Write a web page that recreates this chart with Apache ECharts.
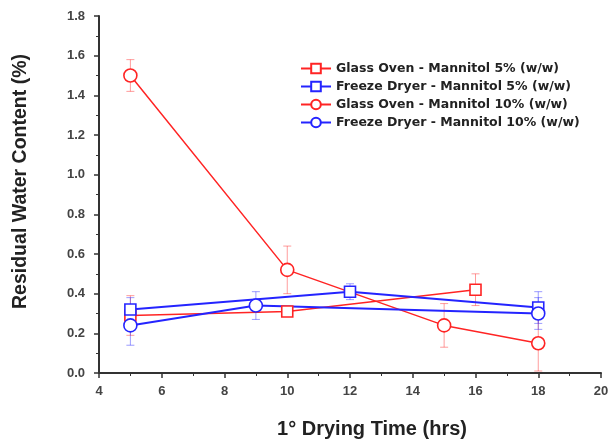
<!DOCTYPE html>
<html>
<head>
<meta charset="utf-8">
<script src="https://cdn.jsdelivr.net/npm/echarts@6/dist/echarts.min.js"></script>
<style>
html,body{margin:0;padding:0;background:#fff;}
#chart{width:613px;height:444px;}
</style>
</head>
<body>
<div id="chart"></div>
<script>
var names = ['Glass Oven - Mannitol 5% (w/w)', 'Freeze Dryer - Mannitol 5% (w/w)',
             'Glass Oven - Mannitol 10% (w/w)', 'Freeze Dryer - Mannitol 10% (w/w)'];

var goX5 = [5, 10, 16];
var goY5 = [0.29, 0.31, 0.42];
var goE5 = [0.10, 0.02, 0.08];

var fdX5 = [5, 12, 18];
var fdY5 = [0.32, 0.41, 0.33];
var fdE5 = [0.06, 0.04, 0.08];

var goX10 = [5, 10, 15, 18];
var goY10 = [1.50, 0.52, 0.24, 0.15];
var goE10 = [0.08, 0.12, 0.11, 0.14];

var fdX10 = [5, 9, 18];
var fdY10 = [0.24, 0.34, 0.30];
var fdE10 = [0.10, 0.07, 0.08];

var red = '#ff2424', blue = '#2424ff';

function pts(xs, ys) {
  return xs.map(function (x, i) { return [x, ys[i]]; });
}
function errPts(xs, ys, es) {
  return xs.map(function (x, i) { return [x, ys[i] - es[i], ys[i] + es[i]]; });
}

function lineSeries(name, xs, ys, color, symbol, width) {
  return {
    name: name, type: 'line', data: pts(xs, ys),
    symbol: symbol, symbolSize: symbol == 'rect' ? 11 : 13,
    lineStyle: {color: color, width: width},
    itemStyle: {color: '#fff', borderColor: color, borderWidth: 1.6},
    z: 3
  };
}

function errSeries(xs, ys, es, color) {
  return {
    type: 'custom', silent: true, z: 2,
    data: errPts(xs, ys, es),
    renderItem: function (params, api) {
      var lo = api.coord([api.value(0), api.value(1)]);
      var hi = api.coord([api.value(0), api.value(2)]);
      var w = 4;
      var st = {stroke: color, lineWidth: 1, opacity: 0.45};
      return {type: 'group', children: [
        {type: 'line', shape: {x1: lo[0], y1: lo[1], x2: hi[0], y2: hi[1]}, style: st},
        {type: 'line', shape: {x1: lo[0] - w, y1: lo[1], x2: lo[0] + w, y2: lo[1]}, style: st},
        {type: 'line', shape: {x1: hi[0] - w, y1: hi[1], x2: hi[0] + w, y2: hi[1]}, style: st}
      ]};
    }
  };
}

var chart = echarts.init(document.getElementById('chart'));
var fnt = 'Liberation Sans, Arial, sans-serif';
chart.setOption({
  animation: false,
  grid: {left: 99, right: 12, top: 16, bottom: 71},
  legend: {
    orient: 'vertical', left: 295, top: 57, itemGap: 5,
    itemWidth: 30, itemHeight: 12,
    data: names,
    textStyle: {fontFamily: 'DejaVu Sans', fontWeight: 'bold', fontSize: 12.5, color: '#222'}
  },
  xAxis: {
    type: 'value', min: 4, max: 20, interval: 2,
    name: '1° Drying Time (hrs)', nameLocation: 'middle', nameGap: 46,
    nameTextStyle: {fontFamily: fnt, fontWeight: 'bold', fontSize: 20, color: '#222', padding: [0, 0, 0, 44]},
    axisLine: {lineStyle: {color: '#333', width: 2}},
    axisTick: {inside: false, length: 5, lineStyle: {color: '#333', width: 1.5}},
    minorTick: {show: true, splitNumber: 2, length: 3, lineStyle: {color: '#333'}},
    axisLabel: {fontFamily: fnt, fontWeight: 'bold', fontSize: 13, color: '#444', margin: 12},
    splitLine: {show: false}
  },
  yAxis: {
    type: 'value', min: 0, max: 1.8, interval: 0.2,
    name: 'Residual Water Content (%)', nameLocation: 'middle', nameGap: 68,
    nameTextStyle: {fontFamily: fnt, fontWeight: 'bold', fontSize: 19.5, color: '#222', padding: [0, 0, 0, 26]},
    axisLine: {show: true, lineStyle: {color: '#333', width: 2}},
    axisTick: {show: true, inside: false, length: 5, lineStyle: {color: '#333', width: 1.5}},
    minorTick: {show: true, splitNumber: 2, length: 3, lineStyle: {color: '#333'}},
    axisLabel: {fontFamily: fnt, fontWeight: 'bold', fontSize: 13, color: '#444', margin: 14,
      formatter: function (v) { return v.toFixed(1); }},
    splitLine: {show: false}
  },
  series: [
    errSeries(goX5, goY5, goE5, red),
    errSeries(fdX5, fdY5, fdE5, blue),
    errSeries(goX10, goY10, goE10, red),
    errSeries(fdX10, fdY10, fdE10, blue),
    lineSeries(names[0], goX5, goY5, red, 'rect', 1.5),
    lineSeries(names[1], fdX5, fdY5, blue, 'rect', 2),
    lineSeries(names[2], goX10, goY10, red, 'circle', 1.5),
    lineSeries(names[3], fdX10, fdY10, blue, 'circle', 2)
  ]
});
</script>
</body>
</html>
